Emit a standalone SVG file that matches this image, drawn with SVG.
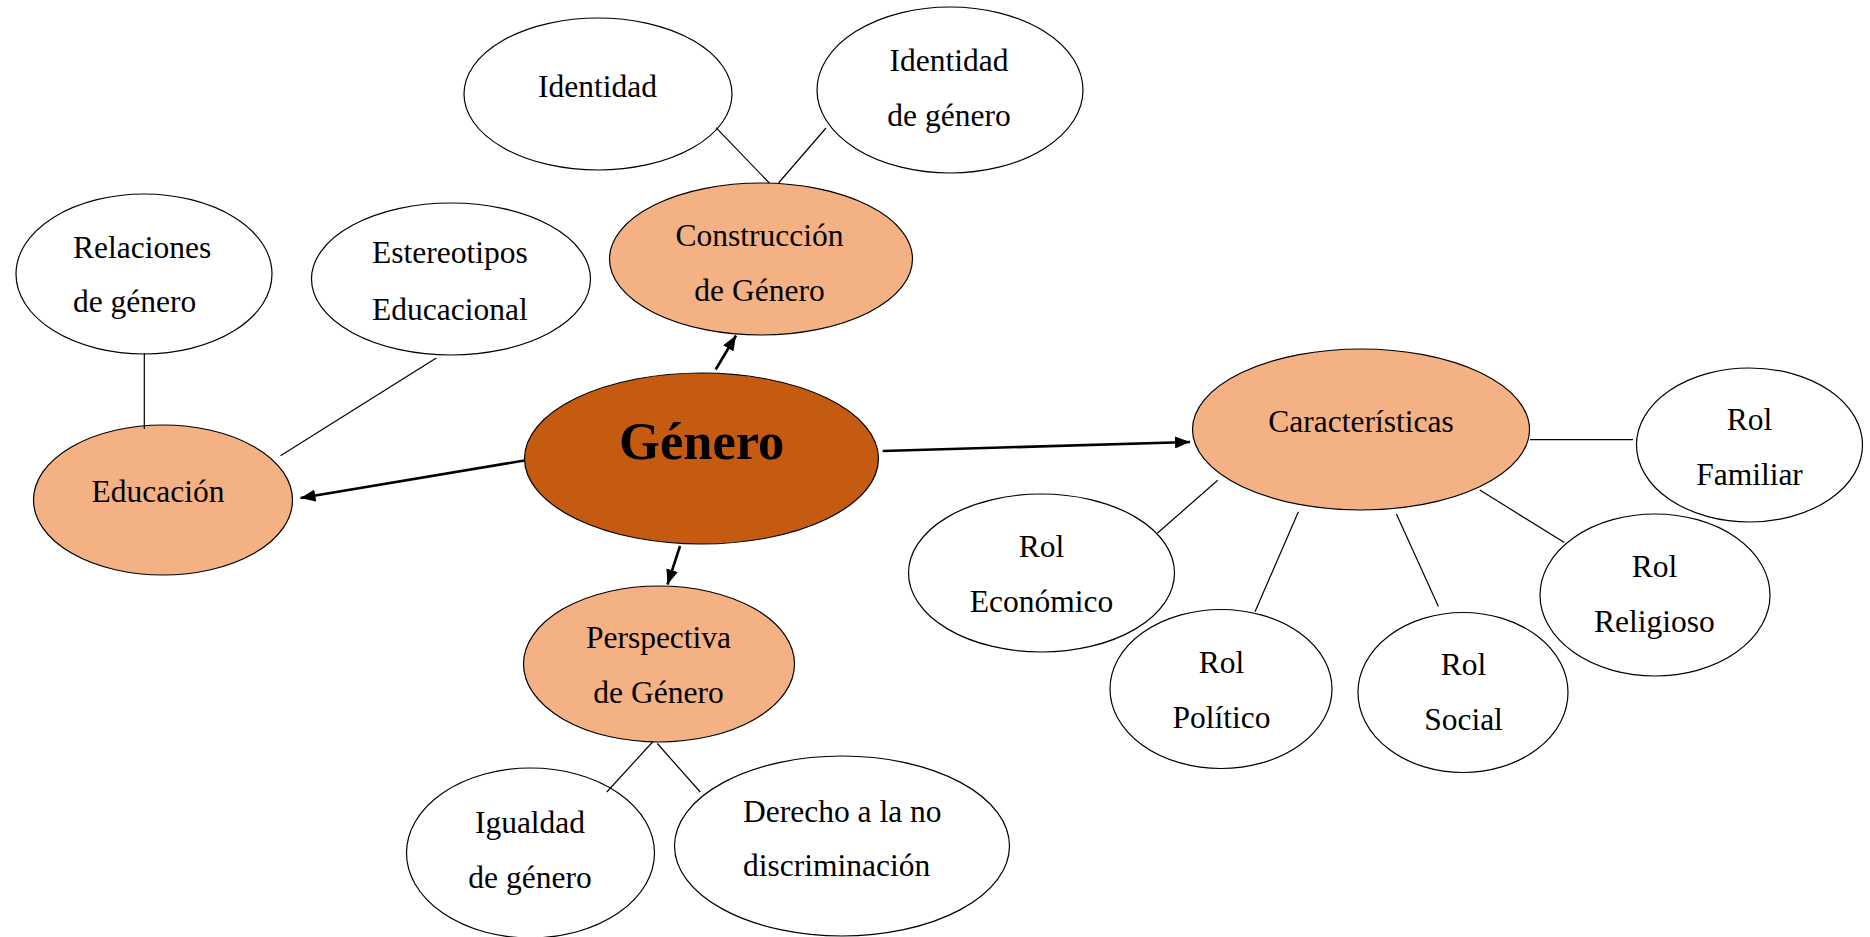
<svg xmlns="http://www.w3.org/2000/svg" width="1870" height="937" viewBox="0 0 1870 937">
<defs>
<style>
.w{fill:#FFFFFF;stroke:#000;stroke-width:1.2}
.o{fill:#F4B183;stroke:#000;stroke-width:1.2}
.d{fill:#C55A11;stroke:#000;stroke-width:1.2}
text{font-family:"Liberation Serif","Times New Roman",serif;font-size:31.5px;fill:#000}
.c{text-anchor:middle}
.b{font-weight:bold;font-size:52.5px}
.l{stroke:#000;stroke-width:1.2;fill:none}
.a{stroke:#000;stroke-width:2.6;fill:none;marker-end:url(#ah)}
</style>
<marker id="ah" markerUnits="userSpaceOnUse" markerWidth="16" markerHeight="12" refX="15" refY="6" orient="auto">
<path d="M0,0 L15,6 L0,12 z" fill="#000"/>
</marker>
</defs>
<rect width="1870" height="937" fill="#FFFFFF"/>

<g id="relaciones">
<ellipse class="w" cx="144" cy="274" rx="128" ry="80"/>
<text x="73" y="258">Relaciones</text>
<text x="73" y="312">de género</text>
</g>
<g id="estereotipos">
<ellipse class="w" cx="451" cy="279" rx="139.5" ry="76"/>
<text x="372" y="263">Estereotipos</text>
<text x="372" y="320">Educacional</text>
</g>
<g id="educacion">
<ellipse class="o" cx="163" cy="500" rx="129.5" ry="75"/>
<text x="91.5" y="502">Educación</text>
</g>
<g id="identidad">
<ellipse class="w" cx="598" cy="94" rx="134" ry="76"/>
<text x="538" y="97">Identidad</text>
</g>
<g id="identidad-genero">
<ellipse class="w" cx="950" cy="90" rx="133" ry="83"/>
<text class="c" x="949" y="71">Identidad</text>
<text class="c" x="949" y="126">de género</text>
</g>
<g id="construccion">
<ellipse class="o" cx="761" cy="259" rx="151.5" ry="76"/>
<text class="c" x="759.5" y="246">Construcción</text>
<text class="c" x="759.5" y="301">de Género</text>
</g>
<g id="genero">
<ellipse class="d" cx="701.5" cy="458.5" rx="177" ry="85.5"/>
<text class="c b" x="701.7" y="459">Género</text>
</g>
<g id="perspectiva">
<ellipse class="o" cx="659" cy="664" rx="135.5" ry="78"/>
<text class="c" x="658.5" y="648">Perspectiva</text>
<text class="c" x="658.5" y="703">de Género</text>
</g>
<g id="igualdad">
<ellipse class="w" cx="530.5" cy="853" rx="124" ry="85"/>
<text class="c" x="530" y="833">Igualdad</text>
<text class="c" x="530" y="888">de género</text>
</g>
<g id="derecho">
<ellipse class="w" cx="842" cy="846" rx="167.5" ry="90"/>
<text x="743" y="822">Derecho a la no</text>
<text x="743" y="876">discriminación</text>
</g>
<g id="caracteristicas">
<ellipse class="o" cx="1361" cy="429.5" rx="168.5" ry="80.5"/>
<text class="c" x="1361" y="431.5">Características</text>
</g>
<g id="rol-familiar">
<ellipse class="w" cx="1749.5" cy="445" rx="113" ry="77"/>
<text class="c" x="1749.5" y="430">Rol</text>
<text class="c" x="1749.5" y="485">Familiar</text>
</g>
<g id="rol-religioso">
<ellipse class="w" cx="1655" cy="595" rx="115" ry="81"/>
<text class="c" x="1654.5" y="577">Rol</text>
<text class="c" x="1654.5" y="632">Religioso</text>
</g>
<g id="rol-social">
<ellipse class="w" cx="1463" cy="692.5" rx="105" ry="80"/>
<text class="c" x="1463.5" y="675">Rol</text>
<text class="c" x="1463.5" y="730">Social</text>
</g>
<g id="rol-politico">
<ellipse class="w" cx="1221" cy="689" rx="111" ry="79.5"/>
<text class="c" x="1221.5" y="672.5">Rol</text>
<text class="c" x="1221.5" y="728">Político</text>
</g>
<g id="rol-economico">
<ellipse class="w" cx="1041.5" cy="573" rx="133" ry="79"/>
<text class="c" x="1041.5" y="557">Rol</text>
<text class="c" x="1041.5" y="612">Económico</text>
</g>

<g id="connectors">
<line class="l" x1="144.3" y1="353" x2="144.3" y2="429"/>
<line class="l" x1="436.3" y1="358" x2="280.5" y2="455.8"/>
<line class="l" x1="716" y1="127.6" x2="769.3" y2="183"/>
<line class="l" x1="826" y1="128" x2="778.5" y2="183"/>
<line class="l" x1="653" y1="741.5" x2="606.8" y2="792"/>
<line class="l" x1="657.3" y1="743.5" x2="700.2" y2="792"/>
<line class="l" x1="1530" y1="439.6" x2="1633" y2="439.6"/>
<line class="l" x1="1217.7" y1="480.3" x2="1157.3" y2="533.2"/>
<line class="l" x1="1298.4" y1="511.7" x2="1255" y2="611.8"/>
<line class="l" x1="1396.4" y1="514" x2="1438.4" y2="606.5"/>
<line class="l" x1="1479.8" y1="490" x2="1564.3" y2="542.5"/>
<line class="a" x1="524.5" y1="460.5" x2="300.5" y2="498"/>
<line class="a" x1="715.7" y1="369.5" x2="736" y2="335.5"/>
<line class="a" x1="680" y1="546" x2="667.5" y2="584.5"/>
<line class="a" x1="882.7" y1="451" x2="1190" y2="442"/>
</g>
</svg>
